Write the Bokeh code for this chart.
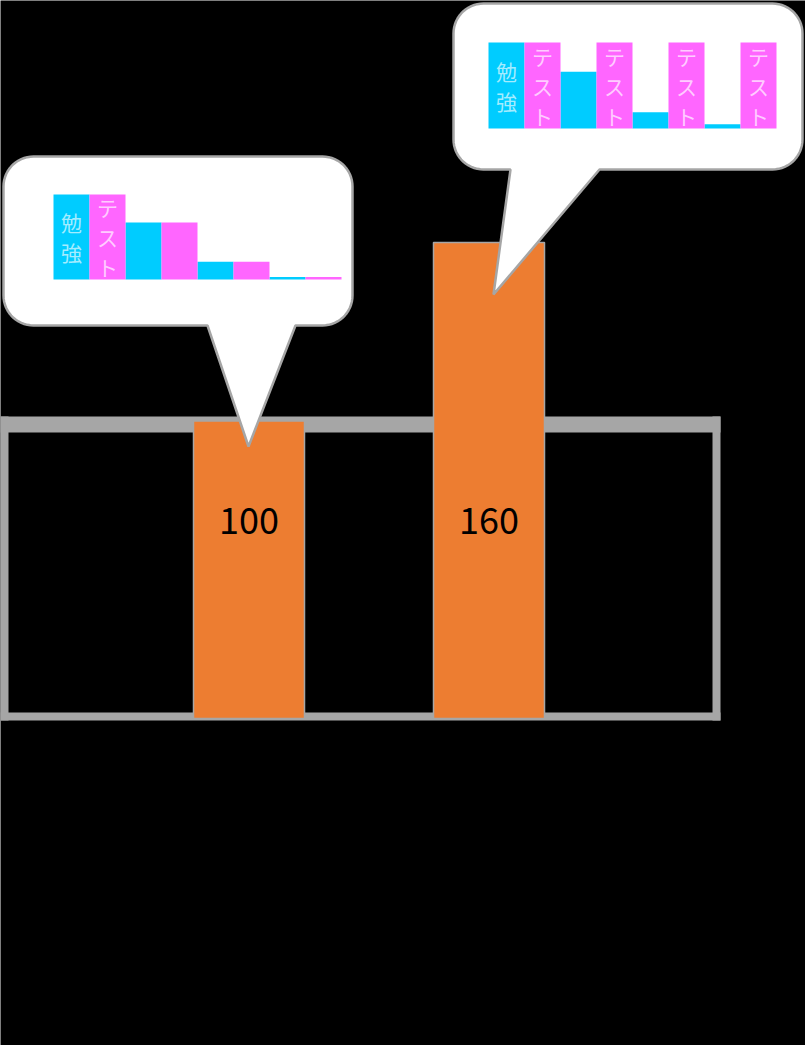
import numpy as np
from bokeh.plotting import figure
from bokeh.models import Range1d, ColumnDataSource
from bokeh.core.properties import value
from bokeh.embed import file_html
from bokeh.resources import INLINE

# ---- data ----
main_values = [100, 160]
main_labels = ["100", "160"]

mini1_study = [100, 67, 21, 3]
mini1_test = [100, 67, 21, 3]
mini1_study_text = ["勉強", "", "", ""]
mini1_test_text = ["テスト", "", "", ""]

mini2_study = [100, 66, 19, 5]
mini2_test = [100, 100, 100, 100]
mini2_study_text = ["勉強", "", "", ""]
mini2_test_text = ["テスト", "テスト", "テスト", "テスト"]

# ---- style ----
W, H = 805, 1045
ORANGE = "#ed7d31"
GREY = "#a6a6a6"
CYAN = "#00ccff"
PINK = "#ff66ff"
CYAN_TXT = "#a4ecff"
PINK_TXT = "#ffccff"
FONT = "Noto Sans CJK JP"


def xrange_from(v0, p0, v1, p1, total=W):
    s = (p1 - p0) / (v1 - v0)
    start = v0 - p0 / s
    return Range1d(start, start + total / s)


def yrange_from(v0, p0, v1, p1, total=H):
    s = (p0 - p1) / (v1 - v0)
    end = v0 + p0 / s
    return Range1d(end - total / s, end)


p = figure(width=W, height=H, x_range=Range1d(0, W), y_range=Range1d(H, 0),
           x_axis_type=None, y_axis_type=None, min_border=0,
           toolbar_location=None, output_backend="svg",
           background_fill_color="black", border_fill_color="black",
           outline_line_color=None)
p.grid.visible = False

p.extra_x_ranges = {
    "main": xrange_from(0, 248.5, 1, 488.5),
    "m1": xrange_from(0, 89, 1, 161),
    "m2": xrange_from(0, 524, 1, 596),
}
p.extra_y_ranges = {
    "main": yrange_from(0, 718, 160, 242),
    "m1": yrange_from(0, 279, 100, 194),
    "m2": yrange_from(0, 128, 100, 42),
}

# ---- frame ----
p.quad(left=[0, 0, 0, 712], right=[720, 720, 8, 720],
       top=[416, 712, 416, 416], bottom=[432, 720, 720, 720],
       fill_color=GREY, line_color=None)

# ---- main bars ----
idx = np.arange(len(main_values))
src = ColumnDataSource(dict(x=idx, top=main_values, label=main_labels))
p.vbar(x="x", top="top", bottom=0, width=0.4625, source=src,
       x_range_name="main", y_range_name="main",
       fill_color=ORANGE, line_color=GREY, line_width=1.5)
p.text(x="x", y=520, text="label", source=src, x_range_name="main",
       text_align="center", text_baseline="middle",
       text_font=value(FONT), text_font_size="36px", text_color="black")


# ---- bubbles ----
def bubble(x0, x1, y0, y1, r, tb0, tb1, tip):
    xs, ys = [], []

    def arc(cx, cy, t0, t1):
        t = np.linspace(t0, t1, 16)
        xs.extend(cx + r * np.cos(t))
        ys.extend(cy + r * np.sin(t))

    arc(x0 + r, y0 + r, np.pi, 1.5 * np.pi)
    arc(x1 - r, y0 + r, 1.5 * np.pi, 2 * np.pi)
    arc(x1 - r, y1 - r, 0, 0.5 * np.pi)
    xs.extend([tb1, tip[0], tb0])
    ys.extend([y1, tip[1], y1])
    arc(x0 + r, y1 - r, 0.5 * np.pi, np.pi)
    return xs, ys


b1 = bubble(3, 352, 156, 325, 30, 207, 295, (248, 446))
b2 = bubble(453, 802, 3, 169, 30, 510, 599, (493, 294))
p.patches(xs=[b1[0], b2[0]], ys=[b1[1], b2[1]],
          fill_color="white", line_color=GREY, line_width=2.5)


# ---- mini charts ----
def mini(study, test, study_txt, test_txt, rname):
    g = np.arange(len(study))
    s1 = ColumnDataSource(dict(x=g - 0.25, top=study, ty=np.array(study) / 2, t=study_txt))
    s2 = ColumnDataSource(dict(x=g + 0.25, top=test, ty=np.array(test) / 2, t=test_txt))
    p.vbar(x="x", top="top", bottom=0, width=0.5, source=s1,
           x_range_name=rname, y_range_name=rname,
           fill_color=CYAN, line_color=None)
    p.vbar(x="x", top="top", bottom=0, width=0.5, source=s2,
           x_range_name=rname, y_range_name=rname,
           fill_color=PINK, line_color=None)
    for s, c in ((s1, CYAN_TXT), (s2, PINK_TXT)):
        p.text(x="x", y="ty", text="t", source=s,
               x_range_name=rname, y_range_name=rname,
               text_align="center", text_baseline="middle",
               text_font=value(FONT), text_font_size="21px",
               text_line_height=1.0, text_color=c)


def vert(labels):
    return ["\n".join(list(t)) for t in labels]


mini(mini1_study, mini1_test, vert(mini1_study_text), vert(mini1_test_text), "m1")
mini(mini2_study, mini2_test, vert(mini2_study_text), vert(mini2_test_text), "m2")

open("out.html", "w").write(file_html(p, INLINE))
